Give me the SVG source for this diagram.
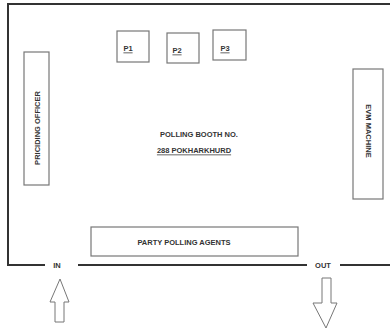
<svg xmlns="http://www.w3.org/2000/svg" width="390" height="329" viewBox="0 0 390 329">
<style>
.wall{stroke:#333;stroke-width:2;fill:none}
.box{fill:#fff;stroke:#777;stroke-width:1.2}
.t{font-family:"Liberation Sans",Arial,sans-serif;font-weight:bold;font-size:7.5px;fill:#333;text-anchor:middle;dominant-baseline:central}
.u{text-decoration:underline}
.arr{fill:#fff;stroke:#777;stroke-width:1}
</style>
<rect width="390" height="329" fill="#fff"/>
<g id="walls">
<polyline class="wall" points="390,4 8,4 8,265 45,265"/>
<line class="wall" x1="78" y1="265" x2="307" y2="265"/>
<line class="wall" x1="340" y1="265" x2="390" y2="265"/>
</g>
<g id="p1"><rect class="box" x="117" y="31" width="32" height="31"/><text class="t u" x="128" y="48">P1</text></g>
<g id="p2"><rect class="box" x="167" y="33" width="32" height="30"/><text class="t u" x="177" y="50">P2</text></g>
<g id="p3"><rect class="box" x="213" y="30" width="33" height="30"/><text class="t u" x="225" y="48">P3</text></g>
<g id="presiding"><rect class="box" x="24" y="52" width="25" height="133"/><text class="t" transform="translate(37,128) rotate(-90)">PRICIDING OFFICER</text></g>
<g id="evm"><rect class="box" x="353" y="69" width="30" height="130"/><text class="t" transform="translate(368,131) rotate(90)">EVM MACHINE</text></g>
<g id="title"><text class="t" x="199" y="134">POLLING BOOTH NO.</text><text class="t u" x="194" y="150">288 POKHARKHURD</text></g>
<g id="agents"><rect class="box" x="91" y="227" width="207" height="29"/><text class="t" x="184" y="242">PARTY POLLING AGENTS</text></g>
<g id="in"><text class="t" x="57" y="265">IN</text><polygon class="arr" points="60,279 69,302 64,302 64,322 55,322 55,302 50,302"/></g>
<g id="out"><text class="t" x="323" y="265">OUT</text><polygon class="arr" points="322,278 331,278 331,303 337,303 326,328 313,303 322,303"/></g>
</svg>
